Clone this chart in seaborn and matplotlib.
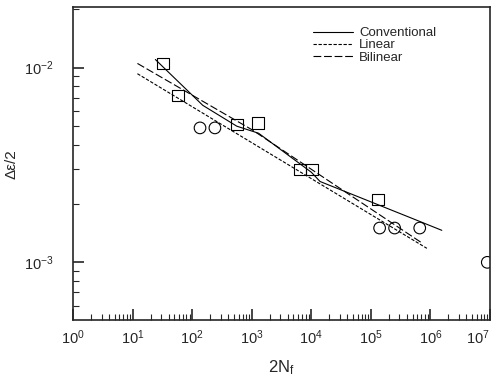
import numpy as np
import pandas as pd
import matplotlib
matplotlib.use("Agg")
import matplotlib.pyplot as plt
from matplotlib.ticker import LogLocator, NullFormatter
import seaborn as sns

sns.set_style("ticks")
plt.rcParams["font.family"] = ["Liberation Sans", "DejaVu Sans"]
plt.rcParams["mathtext.fontset"] = "custom"
plt.rcParams["mathtext.rm"] = "Liberation Sans"
plt.rcParams["mathtext.it"] = "Liberation Sans:italic"
plt.rcParams["mathtext.default"] = "regular"

# fitted life curves
conv_n = [24, 150, 560, 1300, 1.0e4, 1.4e4, 4.5e5, 1.55e6]
conv_e = [0.0110, 0.0064, 0.0050, 0.0046, 0.0029, 0.0026, 0.0017, 0.00146]
lin_n = [12, 8.7e5]
lin_e = [0.0093, 0.00118]
bil_n = [12, 1000, 7.4e5]
bil_e = [0.0105, 0.0048, 0.00125]

# test data
sq_n = [32, 58, 563, 1260, 6450, 10200, 1.3e5]
sq_e = [0.0105, 0.0072, 0.0051, 0.0052, 0.0030, 0.0030, 0.0021]
ci_n = [135, 240, 1.4e5, 2.5e5, 6.6e5, 9.0e6]
ci_e = [0.0049, 0.0049, 0.0015, 0.0015, 0.0015, 0.0010]

x_ticks = [1, 10, 100, 1e3, 1e4, 1e5, 1e6, 1e7]
x_ticklabels = ["$10^{%d}$" % k for k in range(8)]
y_ticks = [1e-3, 1e-2]
y_ticklabels = ["$10^{-3}$", "$10^{-2}$"]

curves = pd.concat([
    pd.DataFrame({"N": conv_n, "e": conv_e, "model": "Conventional"}),
    pd.DataFrame({"N": lin_n, "e": lin_e, "model": "Linear"}),
    pd.DataFrame({"N": bil_n, "e": bil_e, "model": "Bilinear"}),
])

fig = plt.figure(figsize=(4.91, 3.82), dpi=100)
ax = fig.add_axes([0.149, 0.162, 0.849, 0.819])

sns.lineplot(data=curves, x="N", y="e", style="model",
             dashes={"Conventional": "", "Linear": (3, 1.5), "Bilinear": (7, 2.5)},
             color="black", linewidth=0.8, sort=False, estimator=None, ax=ax)
sns.scatterplot(x=sq_n, y=sq_e, marker="s", s=70, fc="none", ec="black",
                linewidth=0.8, ax=ax, legend=False)
sns.scatterplot(x=ci_n, y=ci_e, marker="o", s=70, fc="none", ec="black",
                linewidth=0.8, ax=ax, legend=False)

ax.set_xscale("log")
ax.set_yscale("log")
ax.set_xlim(1, 1e7)
ax.set_ylim(5.05e-4, 2.04e-2)

ax.set_xticks(x_ticks, labels=x_ticklabels)
ax.set_yticks(y_ticks, labels=y_ticklabels)
ax.xaxis.set_minor_locator(LogLocator(base=10, subs=np.arange(2, 10), numticks=20))
ax.yaxis.set_minor_locator(LogLocator(base=10, subs=np.arange(2, 10), numticks=20))
ax.xaxis.set_minor_formatter(NullFormatter())
ax.yaxis.set_minor_formatter(NullFormatter())

ax.tick_params(which="major", direction="in", length=8, width=1.2, labelsize=10.5, pad=6)
ax.tick_params(which="minor", direction="in", length=4, width=0.8)
ax.tick_params(axis="y", which="major", pad=14)

xlabs = ax.get_xticklabels()
xlabs[-1].set_horizontalalignment("right")

for s in ax.spines.values():
    s.set_linewidth(1.2)

ax.set_xlabel("2N$_f$", fontsize=12, labelpad=8)
ax.set_ylabel("Δε/2", fontsize=11, labelpad=4)

leg = ax.legend(loc="upper right", bbox_to_anchor=(0.9, 0.975), frameon=False,
                fontsize=9.5, labelspacing=0.0, handlelength=3.0, handletextpad=0.5)
for h in leg.get_lines():
    h.set_color("black")
    h.set_linewidth(0.8)

fig.savefig("out.png", dpi=100)
